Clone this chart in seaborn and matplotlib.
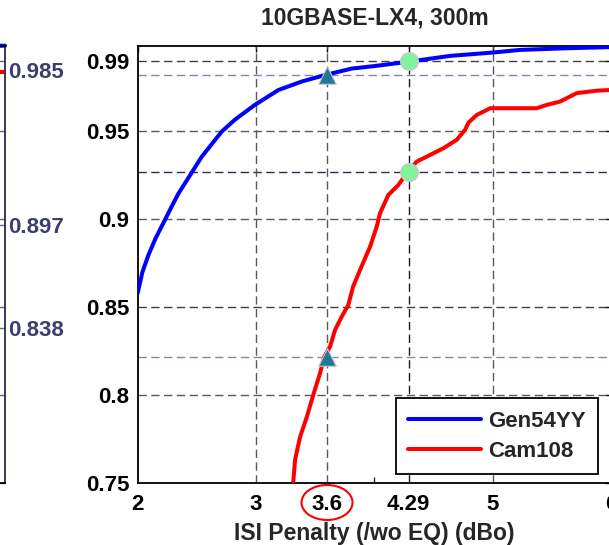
import numpy as np
import pandas as pd
import matplotlib
matplotlib.use("Agg")
import matplotlib.pyplot as plt
import matplotlib.transforms as mtransforms
from matplotlib.patches import Ellipse
from matplotlib.lines import Line2D
import seaborn as sns

sns.set_theme(style="white")
plt.rcParams['font.family'] = ['Liberation Sans', 'DejaVu Sans']
plt.rcParams['font.weight'] = 'bold'

# ---------------- data ----------------
title = "10GBASE-LX4, 300m"
xlabel = "ISI Penalty (/wo EQ) (dBo)"
series_names = ["Gen54YY", "Cam108"]
series_colors = ["#0000ff", "#ff0000"]

gen_x = [2.0, 2.04, 2.09, 2.15, 2.23, 2.287, 2.343, 2.456, 2.54, 2.71, 2.82,
         2.99, 3.19, 3.386, 3.589, 3.81, 4.0, 4.29, 4.64, 5.0, 5.23, 5.65, 6.0]
gen_y = [0.858, 0.870, 0.8795, 0.889, 0.8996, 0.9072, 0.9145, 0.9265, 0.9355,
         0.9499, 0.9566, 0.9651, 0.9736, 0.9784, 0.9822, 0.9858, 0.9872, 0.9897,
         0.993, 0.9949, 0.9964, 0.9974, 0.998]

cam_x = [3.315, 3.33, 3.372, 3.43, 3.484, 3.541, 3.577, 3.626, 3.668, 3.724,
         3.78, 3.82, 3.879, 3.964, 4.02, 4.048, 4.118, 4.203, 4.282, 4.358,
         4.471, 4.583, 4.696, 4.767, 4.795, 4.866, 4.978, 5.373, 5.457, 5.57,
         5.71, 5.88, 6.0]
cam_y = [0.7506, 0.763, 0.776, 0.7876, 0.800, 0.8123, 0.8218, 0.8275, 0.837,
         0.8445, 0.8512, 0.8616, 0.8711, 0.8844, 0.8958, 0.9034, 0.9138, 0.9195,
         0.9271, 0.9328, 0.9366, 0.9404, 0.9452, 0.9509, 0.955, 0.9594, 0.9632,
         0.9632, 0.9651, 0.967, 0.9718, 0.9732, 0.9736]

x_ticks = [2, 3, 3.6, 4.29, 5, 6]
x_tick_labels = ["2", "3", "3.6", "4.29", "5", "6"]
x_minor_ticks = [4]
y_ticks = [0.75, 0.8, 0.85, 0.9, 0.95, 0.99]
y_tick_labels = ["0.75", "0.8", "0.85", "0.9", "0.95", "0.99"]

circle_x = [4.29, 4.29]
circle_y = [0.99, 0.927]
tri_x = [3.6, 3.6]
tri_y = [0.982, 0.8216]

# reference lines: (value, colour)
hlines_vals = [0.8, 0.85, 0.9, 0.95, 0.99, 0.982, 0.927, 0.8216]
hlines_cols = ["#5a5a5a", "#404040", "#5a5a5a", "#5a5a5a", "#404040",
               "#8585ad", "#2a2a55", "#8585ad"]
vlines_vals = [3, 3.6, 4.29, 5]
vlines_cols = ["#5a5a5a", "#5a5a5a", "#1a1a1a", "#5a5a5a"]

# left (cropped) neighbour panel
left_ticks = [0.838, 0.897, 0.985]
left_tick_labels = ["0.838", "0.897", "0.985"]
left_gen_x = [5.5, 6.0]
left_gen_y = [0.9985, 0.9988]
left_cam_x = [5.5, 6.0]
left_cam_y = [0.9835, 0.9838]

# ---------------- figure ----------------
W, H = 609, 545
fig = plt.figure(figsize=(W / 100, H / 100), dpi=100)
ax_l, ax_r, ax_t, ax_b = 137.7, 611.0, 45.7, 482.7
ax = fig.add_axes([ax_l / W, 1 - ax_b / H, (ax_r - ax_l) / W, (ax_b - ax_t) / H])
axl = fig.add_axes([(5 - (ax_r - ax_l)) / W, 1 - ax_b / H, (ax_r - ax_l) / W, (ax_b - ax_t) / H])

xlim = (2, 6)
ylim = (0.75, 0.9988)

df = pd.DataFrame({
    "x": gen_x + cam_x,
    "y": gen_y + cam_y,
    "series": [series_names[0]] * len(gen_x) + [series_names[1]] * len(cam_x),
})

dash = (6, 3.2)
for v, c in zip(hlines_vals, hlines_cols):
    ax.axhline(v, color=c, lw=1.0, dashes=dash, zorder=1)
for v, c in zip(vlines_vals, vlines_cols):
    ax.axvline(v, color=c, lw=1.0, dashes=dash, zorder=1)

sns.lineplot(data=df, x="x", y="y", hue="series", palette=series_colors,
             estimator=None, sort=False, lw=2.9, ax=ax, legend=False, zorder=3)

sns.scatterplot(x=circle_x, y=circle_y, ax=ax, s=160, color="#7ff49b",
                edgecolor="#c8c8c8", linewidth=1.0, zorder=5, legend=False)
sns.scatterplot(x=tri_x, y=tri_y, ax=ax, s=160, marker="^", color="#21789a",
                edgecolor="#c8c8c8", linewidth=0.8, zorder=5, legend=False)

ax.set_xlim(*xlim)
ax.set_ylim(*ylim)
ax.set_xticks(x_ticks)
ax.set_xticklabels(x_tick_labels)
ax.set_xticks(x_minor_ticks, minor=True)
ax.set_yticks(y_ticks)
ax.set_yticklabels(y_tick_labels)
ax.tick_params(axis="both", which="major", direction="in", length=4, width=1,
               labelsize=16, colors="black", top=True, right=True, pad=8)
ax.tick_params(axis="y", which="major", pad=6)
ax.tick_params(axis="x", which="minor", direction="in", length=4, width=1,
               bottom=True, top=False)
for lab in ax.get_xticklabels() + ax.get_yticklabels():
    lab.set_fontweight("bold")
for s in ax.spines.values():
    s.set_color("black")
    s.set_linewidth(1.3)

ax.set_xlabel(xlabel, fontsize=16.5, fontweight="bold", labelpad=5)
ax.set_ylabel("")
ax.set_title(title, fontsize=16.5, fontweight="bold", pad=15)

# red ellipse around the 3.6 tick label
trans = mtransforms.blended_transform_factory(ax.transData, ax.transAxes)
ell = Ellipse((x_ticks[2], -0.0453), width=51 / 118.3, height=35 / 437,
              transform=trans, fill=False, edgecolor="#ff0000", lw=1.5,
              clip_on=False, zorder=10)
ax.add_patch(ell)

handles = [Line2D([], [], color=c, lw=2.9) for c in series_colors]
leg = ax.legend(handles, series_names, loc="upper left",
                bbox_to_anchor=(0.5451, 0.1931), borderaxespad=0,
                prop={"weight": "bold", "size": 16}, handlelength=3.3,
                handletextpad=0.32, labelspacing=0.42, borderpad=0.55,
                frameon=True, fancybox=False, framealpha=1)
leg.get_frame().set_edgecolor("black")
leg.get_frame().set_linewidth(1.3)

# ---------------- left cropped panel ----------------
axl.plot(left_gen_x, left_gen_y, color=series_colors[0], lw=2.9, clip_on=False)
axl.plot(left_cam_x, left_cam_y, color=series_colors[1], lw=2.9)
axl.set_xlim(*xlim)
axl.set_ylim(*ylim)
axl.set_xticks([])
axl.yaxis.tick_right()
axl.set_yticks(left_ticks)
axl.set_yticklabels(left_tick_labels)
axl.set_yticks(y_ticks, minor=True)
axl.tick_params(axis="y", which="major", direction="in", length=4, width=1,
                labelsize=16, labelcolor="#3d3d6e", color="#6a6a8a", pad=2.5,
                right=True, left=False)
axl.tick_params(axis="y", which="minor", direction="in", length=4, width=1,
                color="#6a6a6a", right=True, left=False)
for lab in axl.get_yticklabels():
    lab.set_fontweight("bold")
for k, s in axl.spines.items():
    s.set_color("black")
    s.set_linewidth(1.3)
axl.spines["right"].set_color("#2b2b4b")

fig.savefig("out.png", dpi=100)
